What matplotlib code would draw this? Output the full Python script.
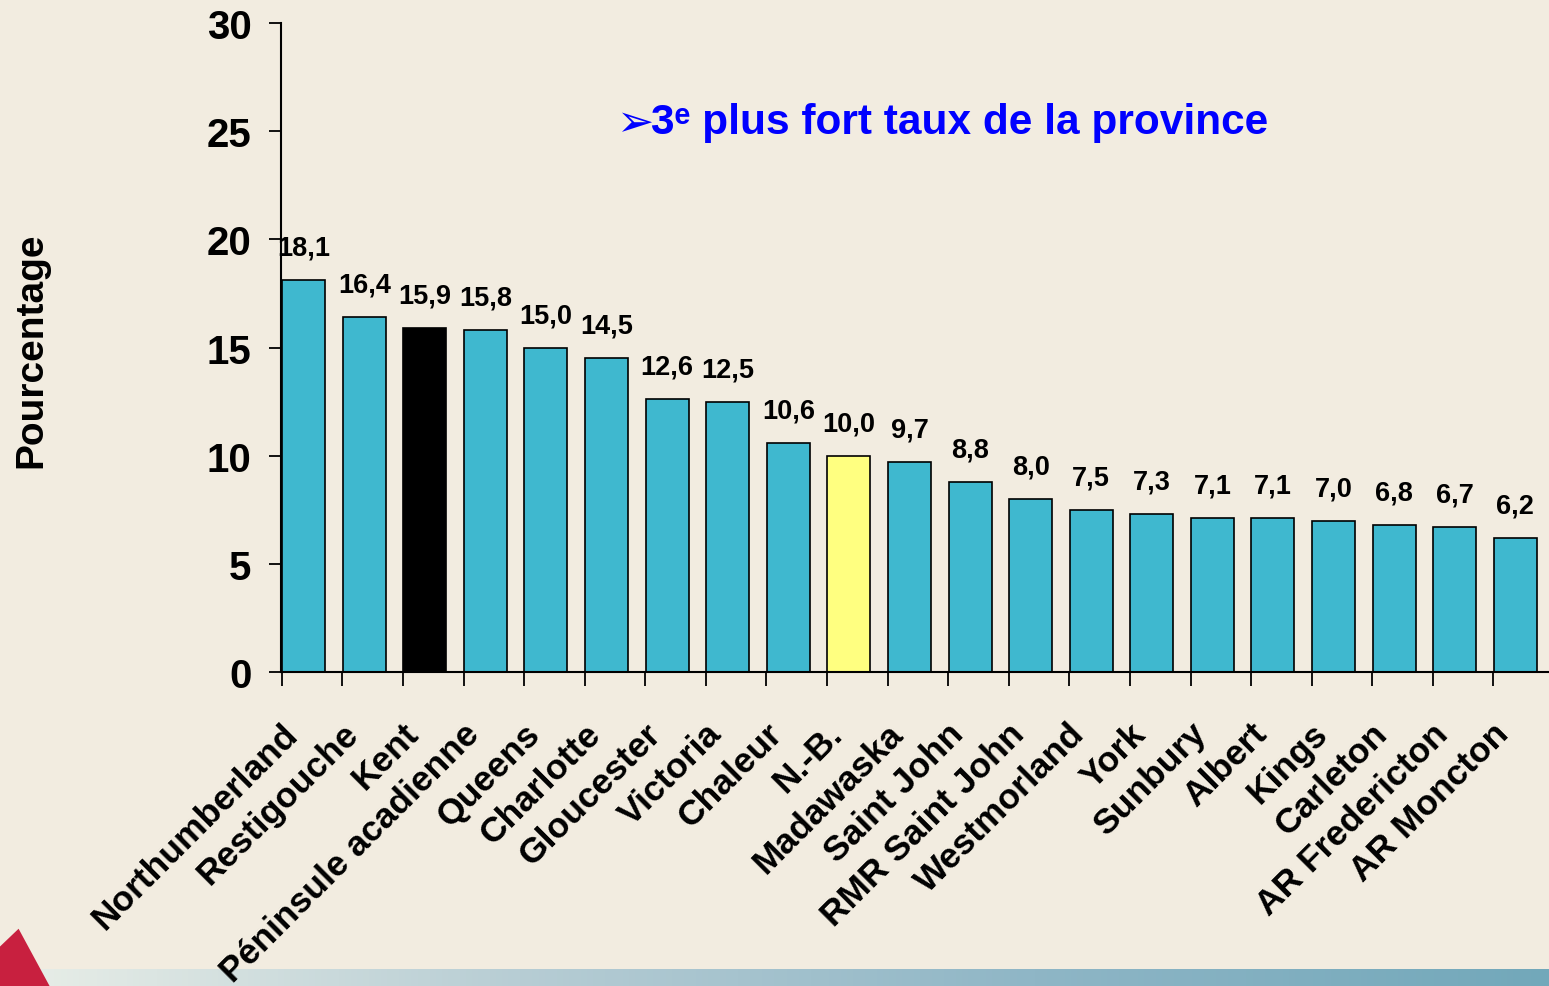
import numpy as np
import matplotlib
matplotlib.use("Agg")
import matplotlib.pyplot as plt
from matplotlib.patches import Polygon
from matplotlib.colors import LinearSegmentedColormap

# Data
regions = ['Northumberland', 'Restigouche', 'Kent', 'Péninsule acadienne', 'Queens',
           'Charlotte', 'Gloucester', 'Victoria', 'Chaleur', 'N.-B.', 'Madawaska',
           'Saint John', 'RMR Saint John', 'Westmorland', 'York', 'Sunbury', 'Albert',
           'Kings', 'Carleton', 'AR Fredericton', 'AR Moncton']
values = [18.1, 16.4, 15.9, 15.8, 15.0, 14.5, 12.6, 12.5, 10.6, 10.0, 9.7,
          8.8, 8.0, 7.5, 7.3, 7.1, 7.1, 7.0, 6.8, 6.7, 6.2]
yticks = [0, 5, 10, 15, 20, 25, 30]

teal = '#3FB8CF'
colors = [teal] * len(regions)
colors[regions.index('Kent')] = '#000000'
colors[regions.index('N.-B.')] = '#FFFF80'

plt.rcParams['font.family'] = ['Liberation Sans', 'DejaVu Sans']
plt.rcParams['font.weight'] = 'bold'

fig = plt.figure(figsize=(15.49, 9.87), dpi=100, facecolor='#F2ECE0')

# bottom gradient strip
strip = fig.add_axes([0.0, 0.0, 1.0, 0.017])
grad = np.linspace(0, 1, 256).reshape(1, -1)
cmap = LinearSegmentedColormap.from_list('s', ['#EAEFE8', '#B7CDD4', '#8FB6C6', '#72A8BA'])
strip.imshow(grad, aspect='auto', cmap=cmap, extent=[0, 1, 0, 1])
strip.axis('off')

# red decoration bottom-left
fig.patches.append(Polygon([[0.0, 0.0], [0.0, 0.04], [0.012, 0.058], [0.032, 0.0]],
                           closed=True, transform=fig.transFigure,
                           facecolor='#C8203F', edgecolor='none'))

ax = fig.add_axes([0.1812, 0.3181, 0.822, 0.6576])
ax.set_facecolor('none')

x = np.arange(len(regions))
centers = x + 0.36
ax.bar(centers, values, width=0.71, color=colors, edgecolor='black', linewidth=1.2)

for c, v in zip(centers, values):
    ax.annotate(f'{v:.1f}'.replace('.', ','), (c, v), xytext=(0, 14),
                textcoords='offset points', ha='center', va='bottom',
                fontsize=19.5, fontweight='bold')

ax.set_xlim(0, len(regions))
ax.set_ylim(0, 30)
ax.set_yticks(yticks)
ax.set_yticklabels([str(t) for t in yticks], fontsize=29, fontweight='bold')
ax.tick_params(axis='y', direction='out', length=9, width=1.3, pad=12)

ax.set_xticks(centers - 0.38)
ax.set_xticklabels(regions, rotation=45, ha='right', rotation_mode='anchor',
                   fontsize=25.5, fontweight='bold')
ax.tick_params(axis='x', which='major', length=0, pad=32)
ax.set_xticks(x, minor=True)
ax.tick_params(axis='x', which='minor', direction='out', length=10, width=1.3)

for side in ['top', 'right']:
    ax.spines[side].set_visible(False)
for side in ['left', 'bottom']:
    ax.spines[side].set_linewidth(1.5)

fig.text(0.02, 0.645, 'Pourcentage', rotation=90, ha='center', va='center',
         fontsize=28, fontweight='bold')

ax.text(0.2635, 0.847, '➢', transform=ax.transAxes, family='DejaVu Sans',
        color='#0000FF', fontsize=32, ha='left', va='center')
ax.text(0.2905, 0.848, '3ᵉ plus fort taux de la province', transform=ax.transAxes,
        color='#0000FF', fontsize=30.5, fontweight='bold', ha='left', va='center')

fig.savefig('out.png', dpi=100, facecolor=fig.get_facecolor())
